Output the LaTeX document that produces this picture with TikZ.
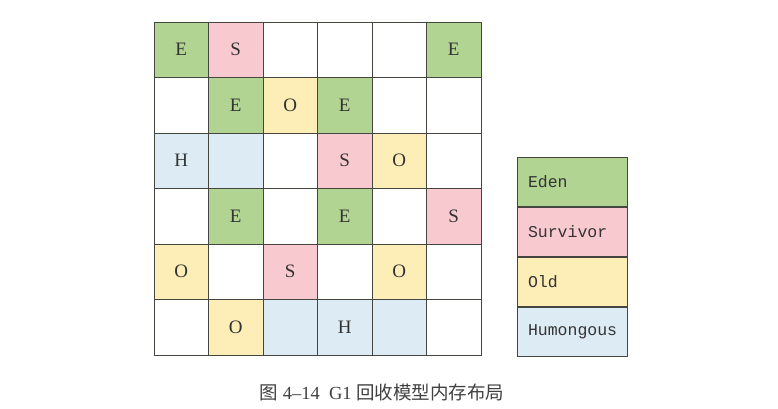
\documentclass[tikz,border=0pt]{standalone}
\usepackage{fontspec}
\setmainfont{Liberation Serif}
\setmonofont{Liberation Mono}
\newfontfamily\cjk{Noto Sans CJK SC}
\usetikzlibrary{positioning}

\definecolor{edenc}{RGB}{178,212,146}
\definecolor{survc}{RGB}{248,202,208}
\definecolor{oldc}{RGB}{253,237,182}
\definecolor{humc}{RGB}{221,235,244}
\definecolor{gridc}{RGB}{70,70,65}

\tikzset{
  cell/.style={draw=gridc,line width=0.8pt,minimum width=54.5pt,minimum height=55.5pt,
    inner sep=0pt,font=\fontsize{19}{19}\selectfont,text=black!80},
  cellE/.style={cell,fill=edenc},
  cellS/.style={cell,fill=survc},
  cellO/.style={cell,fill=oldc},
  cellH/.style={cell,fill=humc},
  cellN/.style={cell,fill=white},
  legbox/.style={draw=gridc,line width=0.8pt,minimum width=110pt,minimum height=49.2pt,
    text width=88pt,inner xsep=11pt,inner ysep=0pt,align=left,
    font=\ttfamily\fontsize{16.5}{16.5}\selectfont,text=black!80},
}

\begin{document}
\begin{tikzpicture}[x=1pt,y=-1pt]
  \useasboundingbox (0,0) rectangle (778,408);

  % memory regions
  \foreach \row [count=\r] in {
      {E/E,S/S,N/,N/,N/,E/E},
      {N/,E/E,O/O,E/E,N/,N/},
      {H/H,H/,N/,S/S,O/O,N/},
      {N/,E/E,N/,E/E,N/,S/S},
      {O/O,N/,S/S,N/,O/O,N/},
      {N/,O/O,H/,H/H,H/,N/}} {
    \foreach \t/\l [count=\c] in \row {
      \node[cell\t] (c\r\c) at ({154+54.5*(\c-0.5)},{22+55.5*(\r-0.5)}) {\l};
    }
  }

  % legend
  \node[legbox,fill=edenc] (leden) at (572,182) {Eden};
  \node[legbox,fill=survc,below=0pt of leden] (lsurv) {Survivor};
  \node[legbox,fill=oldc,below=0pt of lsurv] (lold) {Old};
  \node[legbox,fill=humc,below=0pt of lold] (lhum) {Humongous};

  % caption
  \node[font=\fontsize{18.5}{18.5}\selectfont,text=black!75] (cap) at (382,392)
    {{\cjk 图}\ 4--14\ \ G1\ {\cjk 回收模型内存布局}};
\end{tikzpicture}
\end{document}
